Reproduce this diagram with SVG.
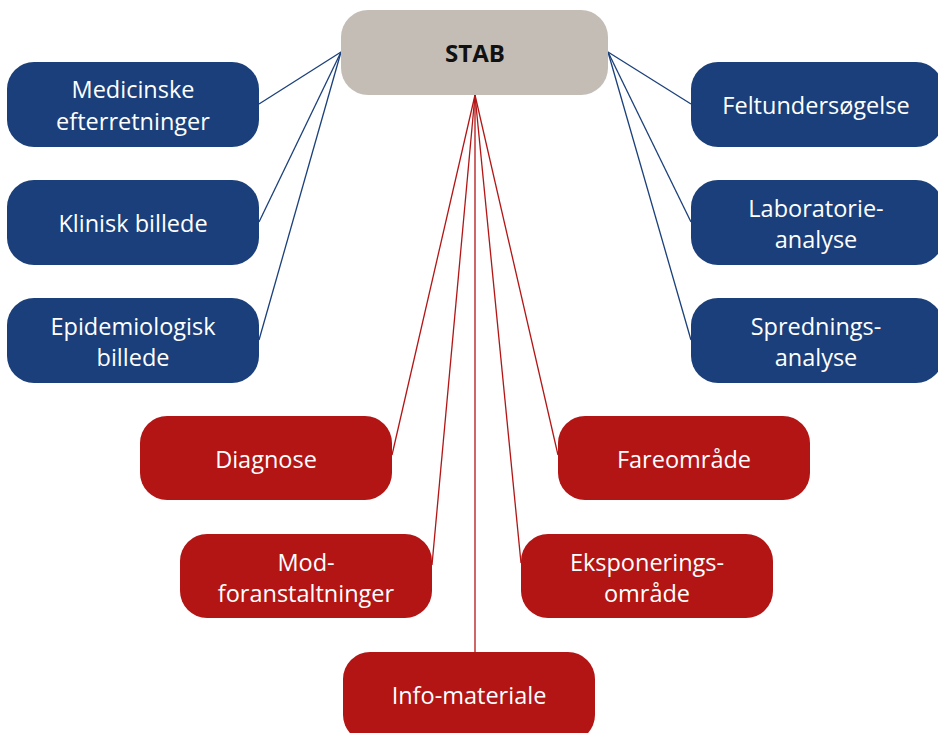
<svg xmlns="http://www.w3.org/2000/svg" width="938" height="733" viewBox="0 0 938 733">
<style>
.blue{fill:#1a3f7a}
.red{fill:#b31515}
.grey{fill:#c4bdb6}
text{font-family:"Open Sans","Noto Sans",sans-serif;font-size:23.5px;text-anchor:middle;fill:#ffffff}
.title{fill:#111111;font-weight:bold;font-size:24px}
.cb{stroke:#1a3f7a;stroke-width:1.3;fill:none}
.cr{stroke:#b31515;stroke-width:1.3;fill:none}
</style>
<rect width="938" height="733" fill="#ffffff"/>
<g id="connectors">
<line class="cb" x1="341" y1="52" x2="259" y2="104"/>
<line class="cb" x1="341" y1="52" x2="259" y2="222"/>
<line class="cb" x1="341" y1="52" x2="259" y2="340"/>
<line class="cb" x1="608" y1="52" x2="691" y2="104"/>
<line class="cb" x1="608" y1="52" x2="691" y2="222"/>
<line class="cb" x1="608" y1="52" x2="691" y2="340"/>
<line class="cr" x1="475" y1="95" x2="392" y2="455"/>
<line class="cr" x1="475" y1="95" x2="432" y2="565"/>
<line class="cr" x1="475" y1="95" x2="475" y2="652"/>
<line class="cr" x1="475" y1="95" x2="521" y2="563"/>
<line class="cr" x1="475" y1="95" x2="558" y2="455"/>
</g>
<g id="stab"><rect class="grey" x="341" y="10" width="267" height="85" rx="27"/><text class="title" x="475" y="62">STAB</text></g>
<g id="medicinske"><rect class="blue" x="7" y="62" width="252" height="85" rx="27"/><text x="133" y="98">Medicinske</text><text x="133" y="130">efterretninger</text></g>
<g id="klinisk"><rect class="blue" x="7" y="180" width="252" height="85" rx="27"/><text x="133" y="232">Klinisk billede</text></g>
<g id="epidemiologisk"><rect class="blue" x="7" y="298" width="252" height="85" rx="27"/><text x="133" y="335">Epidemiologisk</text><text x="133" y="366">billede</text></g>
<g id="feltundersogelse"><rect class="blue" x="691" y="62" width="252" height="85" rx="27"/><text x="816" y="114">Feltundersøgelse</text></g>
<g id="laboratorie"><rect class="blue" x="691" y="180" width="252" height="85" rx="27"/><text x="816" y="217">Laboratorie-</text><text x="816" y="248">analyse</text></g>
<g id="sprednings"><rect class="blue" x="691" y="298" width="252" height="85" rx="27"/><text x="816" y="335">Sprednings-</text><text x="816" y="366">analyse</text></g>
<g id="diagnose"><rect class="red" x="140" y="416" width="252" height="84" rx="27"/><text x="266" y="468">Diagnose</text></g>
<g id="mod"><rect class="red" x="180" y="534" width="252" height="84" rx="27"/><text x="306" y="571">Mod-</text><text x="306" y="602">foranstaltninger</text></g>
<g id="info"><rect class="red" x="343" y="652" width="252" height="90" rx="27"/><text x="469" y="704">Info-materiale</text></g>
<g id="eksponering"><rect class="red" x="521" y="534" width="252" height="84" rx="27"/><text x="647" y="571">Eksponerings-</text><text x="647" y="602">område</text></g>
<g id="fareomrade"><rect class="red" x="558" y="416" width="252" height="84" rx="27"/><text x="684" y="468">Fareområde</text></g>
</svg>
